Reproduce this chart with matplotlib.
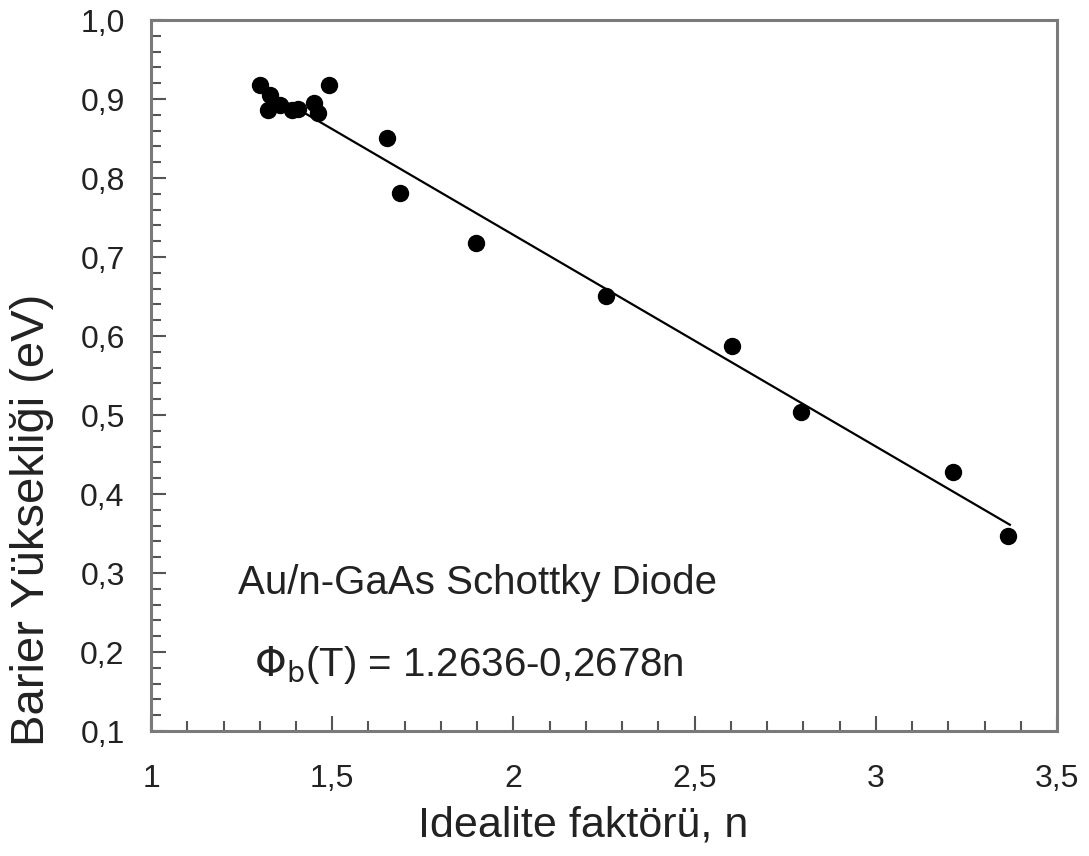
import numpy as np
import matplotlib.pyplot as plt
from matplotlib.ticker import MultipleLocator, FuncFormatter

plt.rcParams['font.family'] = ['Liberation Sans', 'DejaVu Sans']

# ideality factor n and barrier height (eV)
n_vals = [1.300, 1.328, 1.323, 1.356, 1.390, 1.405, 1.450, 1.460, 1.490,
          1.651, 1.687, 1.897, 2.256, 2.603, 2.794, 3.213, 3.365]
phi_vals = [0.918, 0.905, 0.886, 0.892, 0.886, 0.887, 0.895, 0.882, 0.918,
            0.851, 0.781, 0.718, 0.651, 0.587, 0.504, 0.428, 0.347]

# linear fit given in the chart
fit_a = 1.2636
fit_b = -0.2678

fig = plt.figure(figsize=(10.89, 8.56), dpi=100)
ax = fig.add_axes([0.1387, 0.146, 0.8319, 0.8306])

xl = np.array([min(n_vals), 3.37])
ax.plot(xl, fit_a + fit_b * xl, color='black', lw=1.6, zorder=2)
ax.plot(n_vals, phi_vals, 'o', color='black', ms=11.5, zorder=3)

ax.set_xlim(1, 3.5)
ax.set_ylim(0.1, 1.0)
ax.xaxis.set_major_locator(MultipleLocator(0.5))
ax.xaxis.set_minor_locator(MultipleLocator(0.1))
ax.yaxis.set_major_locator(MultipleLocator(0.1))
ax.yaxis.set_minor_locator(MultipleLocator(0.02))

ax.xaxis.set_major_formatter(FuncFormatter(lambda v, p: ('%g' % v).replace('.', ',')))
ax.yaxis.set_major_formatter(FuncFormatter(lambda v, p: ('%.1f' % v).replace('.', ',')))

for s in ax.spines.values():
    s.set_color('#7a7a7a')
    s.set_linewidth(2.2)

ax.tick_params(which='both', direction='in', colors='#555555', width=1.5,
               labelcolor='#222222', labelsize=23)
ax.tick_params(which='major', length=11)
ax.tick_params(which='minor', length=7)
ax.tick_params(axis='x', pad=24)
ax.tick_params(axis='y', pad=19)

ax.set_xlabel('Idealite faktörü, n', fontsize=31, color='#222222')
ax.xaxis.set_label_coords(0.477, -0.105)
ax.xaxis.label.set_va('top')
ax.set_ylabel('Barier Yüksekliği (eV)', fontsize=34, color='#222222')
ax.yaxis.set_label_coords(-0.107, 0.297)

ax.text(1.24, 0.287, 'Au/n-GaAs Schottky Diode', fontsize=29, color='#222222',
        va='center', ha='left')
ax.text(1.285, 0.183, r'$\Phi_{\mathrm{b}}$(T) = 1.2636-0,2678n', fontsize=29,
        color='#222222', va='center', ha='left')

fig.savefig('out.png', dpi=100)
